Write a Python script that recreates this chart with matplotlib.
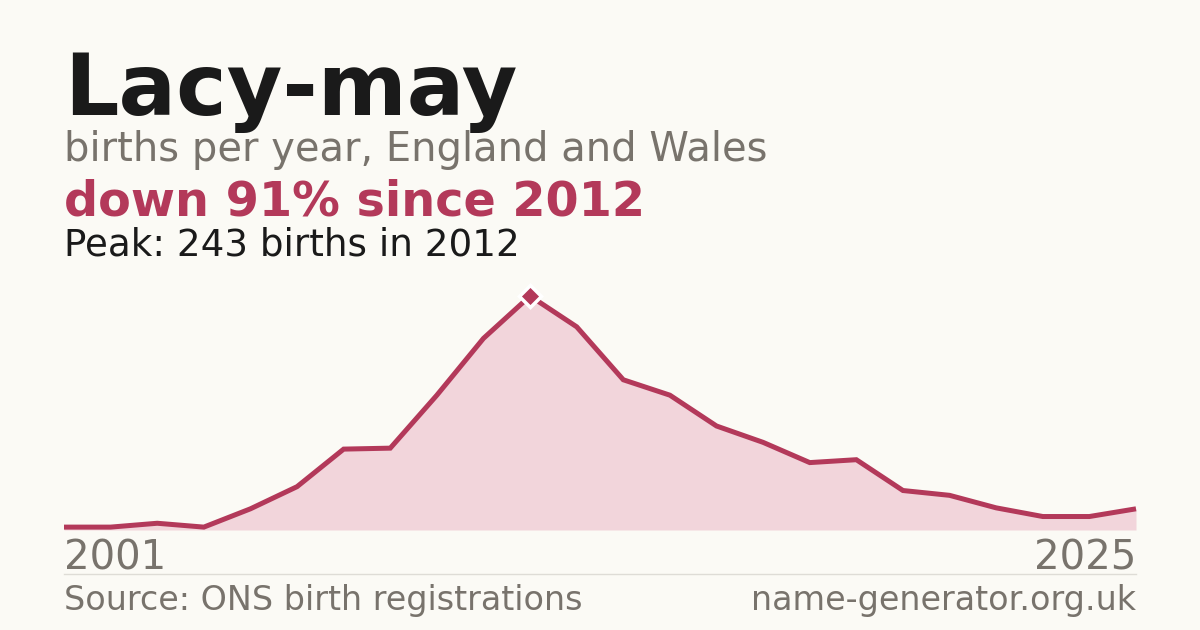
import numpy as np
import matplotlib.pyplot as plt

# births per year (24 published years, first and last labels shown)
births = [3, 3, 7, 3, 22, 45, 84, 85, 140, 199, 243, 211,
          156, 140, 108, 91, 70, 73, 41, 36, 23, 14, 14, 22]
first_year = '2001'
last_year = '2025'
peak_idx = int(np.argmax(births))

bg = '#fbfaf5'
crimson = '#b3395a'
gray = '#78736c'
W, H = 1200, 630

fig = plt.figure(figsize=(12, 6.3), dpi=100, facecolor=bg)

def ftext(px, py, s, **kw):
    fig.text(px / W, 1 - py / H, s, va='baseline', **kw)

ftext(64, 115, 'Lacy-may', fontsize=61.5, fontweight='bold', color='#1a1a1a')
ftext(64, 161, 'births per year, England and Wales', fontsize=28.8, color=gray)
ftext(64, 215, 'down 91% since 2012', fontsize=34.4, fontweight='bold', color=crimson)
ftext(64, 255, 'Peak: 243 births in 2012', fontsize=26.8, color='#1a1a1a')
ftext(64, 570, first_year, fontsize=29, color=gray)
ftext(1136, 570, last_year, fontsize=29, color=gray, ha='right')
ftext(64, 610, 'Source: ONS birth registrations', fontsize=24, color=gray)
ftext(1136, 610, 'name-generator.org.uk', fontsize=24, color=gray, ha='right')

# separator line
fig.add_artist(plt.Line2D([64 / W, 1136 / W], [1 - 574 / H, 1 - 574 / H],
                          color='#dedcd6', lw=1))

ax = fig.add_axes([64 / W, 1 - 530 / H, 1072 / W, 234 / H])
ax.set_facecolor('none')
x = np.arange(len(births))
ax.fill_between(x, births, 0, color='#f2d5db', lw=0)
ax.plot(x, births, color=crimson, lw=3.6, solid_joinstyle='miter',
        solid_capstyle='butt', clip_on=False)
ax.plot(x[peak_idx], births[peak_idx], marker='D', ms=11.5, color=crimson,
        mec='white', mew=2.5, clip_on=False)
ax.set_xlim(0, len(births) - 1)
ax.set_ylim(0, max(births))
ax.axis('off')

plt.savefig('out.png', dpi=100, facecolor=bg)
